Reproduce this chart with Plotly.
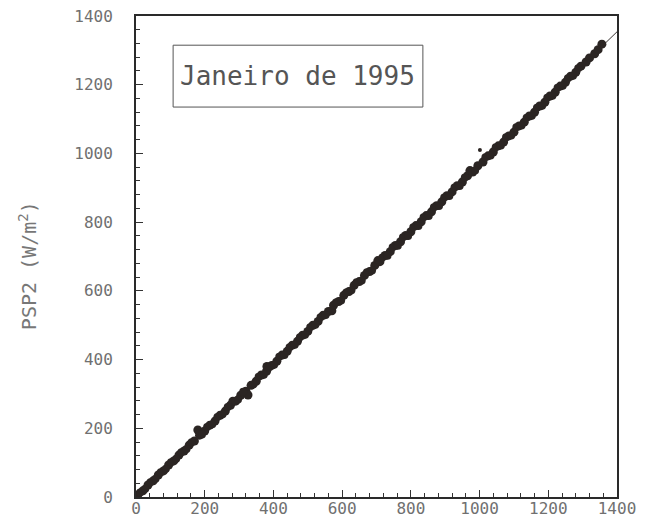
import plotly.graph_objects as go

# PSP1 vs PSP2 global irradiance, January 1995 (W/m²)
psp1 = [5, 20, 35, 50, 65, 80, 95, 110, 125, 140, 155, 170, 180, 185, 200, 215, 230, 245,
        260, 275, 282, 290, 305, 320, 326, 335, 350, 365, 380, 381, 395, 410, 425, 440,
        455, 470, 485, 500, 515, 530, 545, 560, 570, 575, 590, 605, 620, 635, 650, 665,
        680, 695, 704, 710, 725, 740, 755, 770, 785, 800, 815, 830, 845, 860, 875, 890,
        905, 920, 935, 950, 965, 972, 980, 995, 1010, 1025, 1040, 1055, 1070, 1085,
        1100, 1115, 1130, 1145, 1160, 1175, 1190, 1205, 1220, 1235, 1250, 1265, 1280,
        1295, 1310, 1320, 1335, 1345, 1356]
psp2 = [6, 18, 35, 47, 64, 76, 93, 105, 122, 134, 151, 163, 195, 180, 192, 209, 221, 238,
        250, 267, 279, 279, 296, 308, 297, 325, 337, 355, 366, 380, 383, 395, 413, 424,
        442, 453, 471, 482, 500, 511, 529, 540, 542, 558, 569, 587, 598, 616, 627, 645,
        656, 674, 688, 685, 703, 714, 732, 743, 761, 772, 790, 801, 819, 830, 848, 859,
        877, 888, 906, 917, 935, 950, 946, 964, 975, 993, 1004, 1022, 1033, 1051,
        1062, 1080, 1091, 1109, 1120, 1138, 1149, 1167, 1178, 1196, 1207, 1225, 1236,
        1254, 1266, 1278, 1290, 1302, 1318]

# further readings lying between the ones above
psp1_b = [12, 27, 42, 57, 72, 87, 102, 117, 132, 147, 162, 192, 207, 222, 237, 252, 267,
          297, 312, 342, 357, 372, 388, 402, 417, 432, 447, 462, 477, 492, 507, 522, 537,
          552, 582, 597, 612, 627, 642, 657, 672, 687, 717, 732, 747, 762, 777, 792, 807,
          822, 837, 852, 867, 882, 897, 912, 927, 942, 957, 987, 1017, 1032, 1047, 1062,
          1077, 1092, 1107, 1122, 1137, 1152, 1167, 1182, 1197, 1212, 1227, 1242, 1257,
          1272, 1287]
psp2_b = [13, 24, 43, 53, 72, 82, 101, 111, 130, 140, 159, 182, 204, 212, 233, 241, 262,
          284, 306, 328, 350, 356, 378, 385, 408, 413, 436, 443, 465, 472, 494, 501, 523,
          530, 566, 572, 595, 602, 625, 630, 654, 659, 697, 702, 727, 731, 756, 760, 785,
          789, 814, 818, 843, 847, 872, 876, 901, 905, 930, 950, 989, 994, 1018, 1023,
          1047, 1052, 1076, 1081, 1104, 1110, 1133, 1139, 1162, 1168, 1191, 1197, 1219,
          1226, 1248]

# isolated reading off the main cloud
out_x = [1001]
out_y = [1010]

# fitted line end points
fit_x = [0, 1400]
fit_y = [0, 1354]

tick_vals = [0, 200, 400, 600, 800, 1000, 1200, 1400]
tick_text = ["0", "200", "400", "600", "800", "1000", "1200", "1400"]

mono = "DejaVu Sans Mono"
ink = "#2b2523"

fig = go.Figure()
fig.add_trace(go.Scatter(
    x=fit_x, y=fit_y, mode="lines",
    line=dict(color="#3a3533", width=1), hoverinfo="skip", showlegend=False))
fig.add_trace(go.Scatter(
    x=psp1, y=psp2, mode="markers",
    marker=dict(color=ink, size=9, line=dict(width=0)), showlegend=False))
fig.add_trace(go.Scatter(
    x=psp1_b, y=psp2_b, mode="markers",
    marker=dict(color=ink, size=8, line=dict(width=0)), showlegend=False))
fig.add_trace(go.Scatter(
    x=out_x, y=out_y, mode="markers",
    marker=dict(color=ink, size=4, line=dict(width=0)), showlegend=False))

axis_common = dict(
    range=[0, 1400], tickvals=tick_vals, ticktext=tick_text,
    ticks="inside", ticklen=7, tickwidth=1, tickcolor="#333",
    minor=dict(dtick=40, ticks="inside", ticklen=4, tickwidth=1, tickcolor="#333"),
    showgrid=False, zeroline=False, automargin=False,
    showline=True, linecolor="#2a2a2a", linewidth=2, mirror=True,
    tickfont=dict(family=mono, size=16, color="#707070"),
)

fig.update_xaxes(**axis_common, ticklabelstandoff=-4)
fig.update_yaxes(**axis_common, ticklabelstandoff=18)

fig.update_layout(
    width=646, height=524,
    margin=dict(l=136, r=29, t=16, b=27),
    paper_bgcolor="white", plot_bgcolor="white",
    font=dict(family=mono, color="#6a6a6a"),
    shapes=[dict(type="rect", xref="x", yref="y", x0=108, x1=835, y0=1135, y1=1315,
                 line=dict(color="#555", width=1), fillcolor="white", layer="above")],
    annotations=[
        dict(x=471, y=1225, xref="x", yref="y", xanchor="center", yanchor="middle",
             text="Janeiro de 1995", showarrow=False,
             font=dict(family=mono, size=26, color="#555")),
        dict(x=-0.2245, y=0.48, xref="paper", yref="paper", xanchor="center",
             yanchor="middle", textangle=-90, showarrow=False,
             text="PSP2 (W/m<sup>2</sup>)",
             font=dict(family=mono, size=20, color="#777")),
    ],
)

fig.write_html("out.html")
